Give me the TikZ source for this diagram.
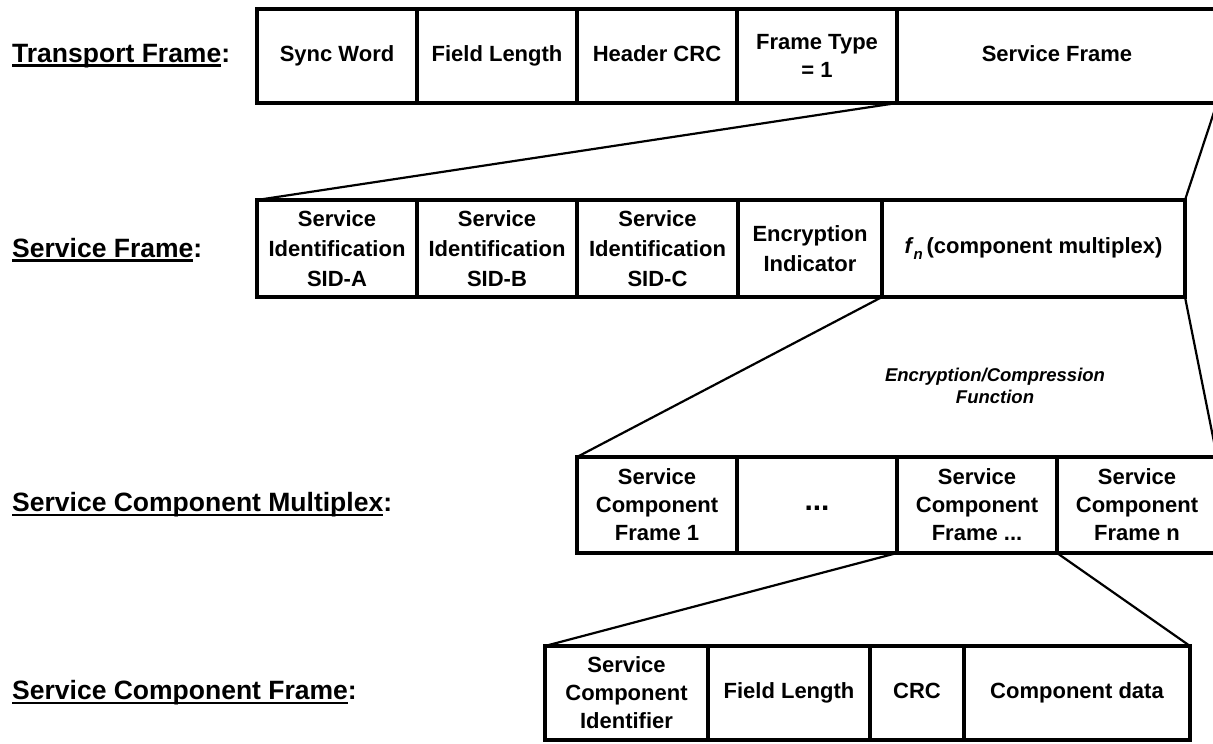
\documentclass[tikz,border=0pt]{standalone}
\usepackage{fontspec}
\setmainfont{Liberation Sans}
\newcommand\myul[1]{\setbox0\hbox{#1}\rlap{\rule[-4.5pt]{\wd0}{2.6pt}}\box0}
\tikzset{
  cell/.style={draw, line width=4pt, inner sep=0pt, outer sep=0pt, align=center,
    font=\fontsize{22}{28}\selectfont\bfseries},
  one/.style={cell, text height=16pt, text depth=5pt},
  cellb/.style={cell, font=\fontsize{22}{30}\selectfont\bfseries},
  conn/.style={line width=2.2pt},
  lbl/.style={anchor=west, inner sep=0pt, font=\fontsize{26.5}{30}\selectfont\bfseries},
  note/.style={align=center, inner sep=0pt, font=\fontsize{18.5}{22}\selectfont\bfseries\itshape}
}
\begin{document}
\begin{tikzpicture}[x=1pt,y=-1pt]
\useasboundingbox (0,0) rectangle (1213,744);
\clip (0,0) rectangle (1213,744);
% labels
\node[lbl] (l1) at (12,56) {\myul{Transport Frame}:};
\node[lbl] (l2) at (12,250) {\myul{Service Frame}:};
\node[lbl] (l3) at (12,505) {\myul{Service Component Multiplex}:};
\node[lbl] (l4) at (12,693) {\myul{Service Component Frame}:};
% row 1
\node[one, minimum width=160pt, minimum height=94pt] (sync) at (337,56) {Sync Word};
\node[one, minimum width=160pt, minimum height=94pt] (flen) at (497,56) {Field Length};
\node[one, minimum width=160pt, minimum height=94pt] (hcrc) at (657,56) {Header CRC};
\node[cell, minimum width=160pt, minimum height=94pt] (ftype) at (817,56) {Frame Type\\= 1};
\node[one, minimum width=320pt, minimum height=94pt] (sframe) at (1057,56) {Service Frame};
% row 2
\node[cellb, minimum width=160pt, minimum height=97pt] (sida) at (337,248.5) {Service\\Identification\\SID-A};
\node[cellb, minimum width=160pt, minimum height=97pt] (sidb) at (497,248.5) {Service\\Identification\\SID-B};
\node[cellb, minimum width=161pt, minimum height=97pt] (sidc) at (657.5,248.5) {Service\\Identification\\SID-C};
\node[cellb, minimum width=144pt, minimum height=97pt] (enc) at (810,248.5) {Encryption\\Indicator};
\node[cellb, minimum width=303pt, minimum height=97pt] (fn) at (1033.5,248.5) {\textit{f}\raisebox{-6pt}{\fontsize{15}{15}\selectfont\bfseries\itshape n}\,(component multiplex)};
% note
\node[note] (encf) at (995,386) {Encryption/Compression\\Function};
% row 3
\node[cell, minimum width=160pt, minimum height=96pt] (scf1) at (657,505) {Service\\Component\\Frame 1};
\node[one, minimum width=160pt, minimum height=96pt, font=\fontsize{30}{28}\selectfont\bfseries] (dots) at (817,505) {...};
\node[cell, minimum width=160pt, minimum height=96pt] (scfd) at (977,505) {Service\\Component\\Frame ...};
\node[cell, minimum width=160pt, minimum height=96pt] (scfn) at (1137,505) {Service\\Component\\Frame n};
% row 4
\node[cell, minimum width=163pt, minimum height=94pt] (scid) at (626.5,693) {Service\\Component\\Identifier};
\node[one, minimum width=162pt, minimum height=94pt] (flen2) at (789,693) {Field Length};
\node[one, minimum width=94pt, minimum height=94pt] (crc) at (917,693) {CRC};
\node[one, minimum width=226pt, minimum height=94pt] (cdata) at (1077,693) {Component data};
% connectors
\draw[conn] (sframe.south west) -- (sida.north west);
\draw[conn] (sframe.south east) -- (fn.north east);
\draw[conn] (fn.south west) -- (scf1.north west);
\draw[conn] (fn.south east) -- (scfn.north east);
\draw[conn] (scfd.south west) -- (scid.north west);
\draw[conn] (scfd.south east) -- (cdata.north east);
\end{tikzpicture}
\end{document}
